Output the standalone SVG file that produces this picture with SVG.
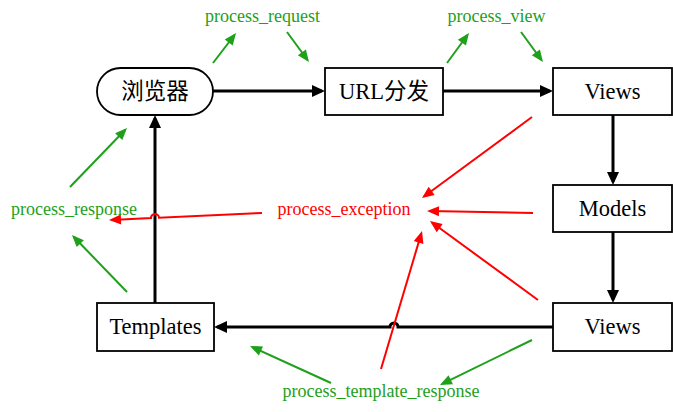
<svg xmlns="http://www.w3.org/2000/svg" width="673" height="412" viewBox="0 0 673 412">
<style>
.box{fill:#fff;stroke:#000;stroke-width:1.8}
.lbl{font-family:'Liberation Serif','Times New Roman','DejaVu Serif','Noto Sans CJK SC',serif;font-size:22.5px;fill:#000;text-anchor:middle}
.g{font-family:'Liberation Serif','Times New Roman','DejaVu Serif',serif;font-size:18px;fill:#1ea01a;text-anchor:middle}
.r{font-family:'Liberation Serif','Times New Roman','DejaVu Serif',serif;font-size:18px;fill:#ff0000;text-anchor:middle}
.bk{fill:none;stroke:#000;stroke-width:3;marker-end:url(#ab)}
.gl{fill:none;stroke:#1ea01a;stroke-width:2;marker-end:url(#ag)}
.rl{fill:none;stroke:#ff0000;stroke-width:2;marker-end:url(#ar)}
</style>
<defs>
<marker id="ab" markerUnits="userSpaceOnUse" markerWidth="14" markerHeight="14" refX="9.5" refY="6" orient="auto" overflow="visible"><path d="M0,0 L13,6 L0,12 z" fill="#000"/></marker>
<marker id="ag" markerUnits="userSpaceOnUse" markerWidth="13" markerHeight="11" refX="9.5" refY="5" orient="auto" overflow="visible"><path d="M0,0 L12,5 L0,10 z" fill="#1ea01a"/></marker>
<marker id="ar" markerUnits="userSpaceOnUse" markerWidth="13" markerHeight="11" refX="9.5" refY="5" orient="auto" overflow="visible"><path d="M0,0 L12,5 L0,10 z" fill="#ff0000"/></marker>
</defs>
<g id="connectors">
<path class="bk" d="M213,91 H321.5"/>
<path class="bk" d="M443,91 H549.5"/>
<path class="bk" d="M613,115 V181.5"/>
<path class="bk" d="M613,232 V299.5"/>
<path class="bk" d="M553,327 H398 a4,4 0 0 0 -8,0 H217.5"/>
<path class="bk" d="M155,303 V118.5"/>
<path class="gl" d="M213,63 L234.5,35"/>
<path class="gl" d="M287,32 L307.5,60"/>
<path class="gl" d="M447,63 L467.5,35"/>
<path class="gl" d="M521,32 L541.5,60"/>
<path class="gl" d="M70,187 L125.3,129.8"/>
<path class="gl" d="M127,292 L73.7,236.8"/>
<path class="gl" d="M532,340 L442.2,383.9"/>
<path class="gl" d="M331,383 L252.3,347"/>
<path class="rl" d="M532,117 L424,196.5"/>
<path class="rl" d="M533,213 L429.5,211"/>
<path class="rl" d="M538,300 L432,222.5"/>
<path class="rl" d="M381,369 L421.3,233.4"/>
<path class="rl" d="M262,213 L159,217.7 a4,4 0 0 0 -8,0.4 L111.5,219.9"/>
</g>
<g id="browser"><rect class="box" x="97" y="68" width="116" height="47" rx="23.5"/><text class="lbl" x="155" y="99">浏览器</text></g>
<g id="url"><rect class="box" x="325" y="68" width="118" height="47"/><text class="lbl" x="384" y="99">URL分发</text></g>
<g id="views1"><rect class="box" x="553" y="68" width="119" height="47"/><text class="lbl" x="612.5" y="99">Views</text></g>
<g id="models"><rect class="box" x="553" y="185" width="119" height="47"/><text class="lbl" x="612.5" y="216">Models</text></g>
<g id="views2"><rect class="box" x="553" y="303" width="119" height="48"/><text class="lbl" x="612.5" y="334">Views</text></g>
<g id="templates"><rect class="box" x="97" y="303" width="117" height="48"/><text class="lbl" x="155.5" y="334">Templates</text></g>
<g id="labels">
<text class="g" x="262.5" y="22">process_request</text>
<text class="g" x="496.5" y="22">process_view</text>
<text class="g" x="74" y="215">process_response</text>
<text class="r" x="344" y="215">process_exception</text>
<text class="g" x="381" y="397">process_template_response</text>
</g>
</svg>
